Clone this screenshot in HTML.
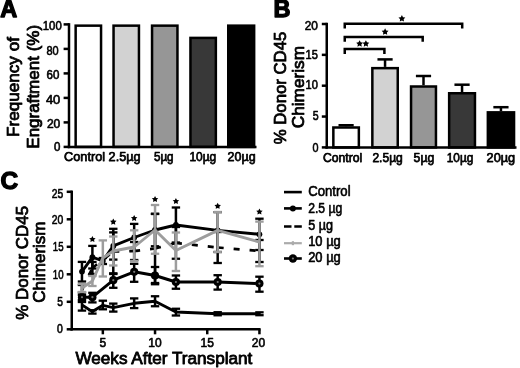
<!DOCTYPE html>
<html><head><meta charset="utf-8"><title>Figure</title>
<style>
html,body{margin:0;padding:0;background:#fff;}
body{width:520px;height:368px;overflow:hidden;font-family:"Liberation Sans",sans-serif;}
svg{display:block;filter:grayscale(1);}
svg text{font-family:"Liberation Sans",sans-serif;}
</style></head><body>
<svg width="520" height="368" viewBox="0 0 520 368">
<rect x="0" y="0" width="520" height="368" fill="#fff"/>
<text x="0.2" y="16.7" font-size="23.5" text-anchor="start" font-weight="bold" fill="#000" stroke="#000" stroke-width="1.3" stroke-linejoin="round">A</text>
<text x="273.4" y="16.6" font-size="23.5" text-anchor="start" font-weight="bold" fill="#000" stroke="#000" stroke-width="1.3" stroke-linejoin="round">B</text>
<text x="0.6" y="189.2" font-size="24.5" text-anchor="start" font-weight="bold" fill="#000" stroke="#000" stroke-width="1.3" stroke-linejoin="round">C</text>
<rect x="75.65" y="25.65" width="25.40" height="121.25" fill="#fff" stroke="#000" stroke-width="2.5"/>
<rect x="113.55" y="25.65" width="25.40" height="121.25" fill="#d2d2d2" stroke="#000" stroke-width="2.5"/>
<rect x="152.05" y="25.65" width="25.40" height="121.25" fill="#969696" stroke="#000" stroke-width="2.5"/>
<rect x="190.45" y="37.90" width="25.40" height="109.00" fill="#383838" stroke="#000" stroke-width="2.5"/>
<rect x="228.25" y="25.65" width="25.90" height="121.25" fill="#000" stroke="#000" stroke-width="2.5"/>
<line x1="69.00" y1="23.15" x2="69.00" y2="148.15" stroke="#000" stroke-width="2.5" stroke-linecap="butt"/>
<line x1="67.75" y1="146.90" x2="256.50" y2="146.90" stroke="#000" stroke-width="2.5" stroke-linecap="butt"/>
<line x1="63.60" y1="146.90" x2="69.00" y2="146.90" stroke="#000" stroke-width="2.5" stroke-linecap="butt"/>
<line x1="63.60" y1="122.40" x2="69.00" y2="122.40" stroke="#000" stroke-width="2.5" stroke-linecap="butt"/>
<line x1="63.60" y1="97.90" x2="69.00" y2="97.90" stroke="#000" stroke-width="2.5" stroke-linecap="butt"/>
<line x1="63.60" y1="73.40" x2="69.00" y2="73.40" stroke="#000" stroke-width="2.5" stroke-linecap="butt"/>
<line x1="63.60" y1="48.90" x2="69.00" y2="48.90" stroke="#000" stroke-width="2.5" stroke-linecap="butt"/>
<line x1="63.60" y1="24.40" x2="69.00" y2="24.40" stroke="#000" stroke-width="2.5" stroke-linecap="butt"/>
<text x="54.0" y="151.29999999999998" font-size="12" text-anchor="start" font-weight="normal" fill="#000" stroke="#000" stroke-width="0.6" stroke-linejoin="round" textLength="6.4" lengthAdjust="spacingAndGlyphs">0</text>
<text x="46.9" y="127.5" font-size="12" text-anchor="start" font-weight="normal" fill="#000" stroke="#000" stroke-width="0.6" stroke-linejoin="round" textLength="13.4" lengthAdjust="spacingAndGlyphs">20</text>
<text x="45.9" y="103.8" font-size="12" text-anchor="start" font-weight="normal" fill="#000" stroke="#000" stroke-width="0.6" stroke-linejoin="round" textLength="14.4" lengthAdjust="spacingAndGlyphs">40</text>
<text x="46.5" y="79.10000000000001" font-size="12" text-anchor="start" font-weight="normal" fill="#000" stroke="#000" stroke-width="0.6" stroke-linejoin="round" textLength="12.8" lengthAdjust="spacingAndGlyphs">60</text>
<text x="46.5" y="54.5" font-size="12" text-anchor="start" font-weight="normal" fill="#000" stroke="#000" stroke-width="0.6" stroke-linejoin="round" textLength="12.2" lengthAdjust="spacingAndGlyphs">80</text>
<text x="42.8" y="30.15" font-size="12" text-anchor="start" font-weight="normal" fill="#000" stroke="#000" stroke-width="0.6" stroke-linejoin="round" textLength="18.9" lengthAdjust="spacingAndGlyphs">100</text>
<text x="64.10000000000001" y="161.1" font-size="13.3" text-anchor="start" font-weight="normal" fill="#000" stroke="#000" stroke-width="0.75" stroke-linejoin="round" textLength="41.0" lengthAdjust="spacingAndGlyphs">Control</text>
<text x="108.60000000000001" y="161.1" font-size="13.3" text-anchor="start" font-weight="normal" fill="#000" stroke="#000" stroke-width="0.75" stroke-linejoin="round" textLength="32.0" lengthAdjust="spacingAndGlyphs">2.5µg</text>
<text x="153.9" y="161.1" font-size="13.3" text-anchor="start" font-weight="normal" fill="#000" stroke="#000" stroke-width="0.75" stroke-linejoin="round" textLength="19.7" lengthAdjust="spacingAndGlyphs">5µg</text>
<text x="189.4" y="161.1" font-size="13.3" text-anchor="start" font-weight="normal" fill="#000" stroke="#000" stroke-width="0.75" stroke-linejoin="round" textLength="26.8" lengthAdjust="spacingAndGlyphs">10µg</text>
<text x="227.6" y="161.1" font-size="13.3" text-anchor="start" font-weight="normal" fill="#000" stroke="#000" stroke-width="0.75" stroke-linejoin="round" textLength="28.0" lengthAdjust="spacingAndGlyphs">20µg</text>
<text x="18.9" y="137" font-size="16.5" text-anchor="start" font-weight="normal" fill="#000" stroke="#000" stroke-width="0.8" stroke-linejoin="round" transform="rotate(-90 18.9 137)" textLength="100" lengthAdjust="spacingAndGlyphs">Frequency of</text>
<text x="39.4" y="148.7" font-size="16.5" text-anchor="start" font-weight="normal" fill="#000" stroke="#000" stroke-width="0.8" stroke-linejoin="round" transform="rotate(-90 39.4 148.7)" textLength="123.8" lengthAdjust="spacingAndGlyphs">Engraftment (%)</text>
<line x1="346.10" y1="125.25" x2="346.10" y2="126.25" stroke="#000" stroke-width="2.5" stroke-linecap="butt"/>
<line x1="338.50" y1="125.25" x2="353.70" y2="125.25" stroke="#000" stroke-width="2.5" stroke-linecap="butt"/>
<rect x="333.35" y="127.50" width="25.50" height="19.90" fill="#fff" stroke="#000" stroke-width="2.5"/>
<line x1="385.05" y1="59.40" x2="385.05" y2="66.90" stroke="#000" stroke-width="2.5" stroke-linecap="butt"/>
<line x1="377.45" y1="59.40" x2="392.65" y2="59.40" stroke="#000" stroke-width="2.5" stroke-linecap="butt"/>
<rect x="372.35" y="68.15" width="25.40" height="79.25" fill="#d2d2d2" stroke="#000" stroke-width="2.5"/>
<line x1="423.50" y1="76.00" x2="423.50" y2="85.25" stroke="#000" stroke-width="2.5" stroke-linecap="butt"/>
<line x1="415.90" y1="76.00" x2="431.10" y2="76.00" stroke="#000" stroke-width="2.5" stroke-linecap="butt"/>
<rect x="411.05" y="86.50" width="24.90" height="60.90" fill="#969696" stroke="#000" stroke-width="2.5"/>
<line x1="462.05" y1="84.70" x2="462.05" y2="92.00" stroke="#000" stroke-width="2.5" stroke-linecap="butt"/>
<line x1="454.45" y1="84.70" x2="469.65" y2="84.70" stroke="#000" stroke-width="2.5" stroke-linecap="butt"/>
<rect x="449.15" y="93.25" width="25.80" height="54.15" fill="#383838" stroke="#000" stroke-width="2.5"/>
<line x1="500.95" y1="107.20" x2="500.95" y2="111.10" stroke="#000" stroke-width="2.5" stroke-linecap="butt"/>
<line x1="493.35" y1="107.20" x2="508.55" y2="107.20" stroke="#000" stroke-width="2.5" stroke-linecap="butt"/>
<rect x="487.85" y="112.35" width="26.20" height="35.05" fill="#000" stroke="#000" stroke-width="2.5"/>
<line x1="326.75" y1="22.75" x2="326.75" y2="148.65" stroke="#000" stroke-width="2.5" stroke-linecap="butt"/>
<line x1="325.50" y1="147.40" x2="516.50" y2="147.40" stroke="#000" stroke-width="2.5" stroke-linecap="butt"/>
<line x1="321.80" y1="147.40" x2="326.75" y2="147.40" stroke="#000" stroke-width="2.5" stroke-linecap="butt"/>
<line x1="321.80" y1="116.55" x2="326.75" y2="116.55" stroke="#000" stroke-width="2.5" stroke-linecap="butt"/>
<line x1="321.80" y1="85.70" x2="326.75" y2="85.70" stroke="#000" stroke-width="2.5" stroke-linecap="butt"/>
<line x1="321.80" y1="54.85" x2="326.75" y2="54.85" stroke="#000" stroke-width="2.5" stroke-linecap="butt"/>
<line x1="321.80" y1="24.00" x2="326.75" y2="24.00" stroke="#000" stroke-width="2.5" stroke-linecap="butt"/>
<text x="312.5" y="151.79999999999998" font-size="12" text-anchor="start" font-weight="normal" fill="#000" stroke="#000" stroke-width="0.6" stroke-linejoin="round" textLength="6.0" lengthAdjust="spacingAndGlyphs">0</text>
<text x="312.7" y="120.3" font-size="12" text-anchor="start" font-weight="normal" fill="#000" stroke="#000" stroke-width="0.6" stroke-linejoin="round" textLength="5.9" lengthAdjust="spacingAndGlyphs">5</text>
<text x="305.6" y="89.0" font-size="12" text-anchor="start" font-weight="normal" fill="#000" stroke="#000" stroke-width="0.6" stroke-linejoin="round" textLength="12.3" lengthAdjust="spacingAndGlyphs">10</text>
<text x="305.6" y="58.5" font-size="12" text-anchor="start" font-weight="normal" fill="#000" stroke="#000" stroke-width="0.6" stroke-linejoin="round" textLength="12.3" lengthAdjust="spacingAndGlyphs">15</text>
<text x="304.7" y="29.8" font-size="12" text-anchor="start" font-weight="normal" fill="#000" stroke="#000" stroke-width="0.6" stroke-linejoin="round" textLength="13.2" lengthAdjust="spacingAndGlyphs">20</text>
<text x="322.9" y="162.1" font-size="13.3" text-anchor="start" font-weight="normal" fill="#000" stroke="#000" stroke-width="0.75" stroke-linejoin="round" textLength="39.3" lengthAdjust="spacingAndGlyphs">Control</text>
<text x="372.4" y="162.1" font-size="13.3" text-anchor="start" font-weight="normal" fill="#000" stroke="#000" stroke-width="0.75" stroke-linejoin="round" textLength="30.4" lengthAdjust="spacingAndGlyphs">2.5µg</text>
<text x="413.59999999999997" y="162.1" font-size="13.3" text-anchor="start" font-weight="normal" fill="#000" stroke="#000" stroke-width="0.75" stroke-linejoin="round" textLength="20.6" lengthAdjust="spacingAndGlyphs">5µg</text>
<text x="446.79999999999995" y="162.1" font-size="13.3" text-anchor="start" font-weight="normal" fill="#000" stroke="#000" stroke-width="0.75" stroke-linejoin="round" textLength="26.5" lengthAdjust="spacingAndGlyphs">10µg</text>
<text x="486.59999999999997" y="162.1" font-size="13.3" text-anchor="start" font-weight="normal" fill="#000" stroke="#000" stroke-width="0.75" stroke-linejoin="round" textLength="28.6" lengthAdjust="spacingAndGlyphs">20µg</text>
<text x="285.6" y="144.3" font-size="16.8" text-anchor="start" font-weight="normal" fill="#000" stroke="#000" stroke-width="0.8" stroke-linejoin="round" transform="rotate(-90 285.6 144.3)" textLength="112.6" lengthAdjust="spacingAndGlyphs">% Donor CD45</text>
<text x="303.6" y="128.2" font-size="16.8" text-anchor="start" font-weight="normal" fill="#000" stroke="#000" stroke-width="0.8" stroke-linejoin="round" transform="rotate(-90 303.6 128.2)" textLength="82.2" lengthAdjust="spacingAndGlyphs">Chimerism</text>
<polyline points="344.75,28.5 344.75,23.7 462.2,23.7 462.2,28.5" fill="none" stroke="#000" stroke-width="2.5"/>
<polyline points="344.75,41.699999999999996 344.75,36.9 422.7,36.9 422.7,41.699999999999996" fill="none" stroke="#000" stroke-width="2.5"/>
<polyline points="344.75,53.9 344.75,49.0 384.4,49.0 384.4,53.9" fill="none" stroke="#000" stroke-width="2.5"/>
<polygon points="401.90,15.04 403.00,17.13 405.32,17.53 403.68,19.22 404.02,21.55 401.90,20.51 399.78,21.55 400.12,19.22 398.48,17.53 400.80,17.13" fill="#000"/>
<polygon points="385.10,28.34 386.20,30.43 388.52,30.83 386.88,32.52 387.22,34.85 385.10,33.81 382.98,34.85 383.32,32.52 381.68,30.83 384.00,30.43" fill="#000"/>
<polygon points="359.60,40.14 360.70,42.23 363.02,42.63 361.38,44.32 361.72,46.65 359.60,45.61 357.48,46.65 357.82,44.32 356.18,42.63 358.50,42.23" fill="#000"/>
<polygon points="365.90,40.14 367.00,42.23 369.32,42.63 367.68,44.32 368.02,46.65 365.90,45.61 363.78,46.65 364.12,44.32 362.48,42.63 364.80,42.23" fill="#000"/>
<line x1="71.75" y1="190.55" x2="71.75" y2="330.55" stroke="#000" stroke-width="2.5" stroke-linecap="butt"/>
<line x1="70.50" y1="329.30" x2="260.60" y2="329.30" stroke="#000" stroke-width="2.5" stroke-linecap="butt"/>
<line x1="66.70" y1="329.30" x2="71.75" y2="329.30" stroke="#000" stroke-width="2.5" stroke-linecap="butt"/>
<line x1="66.70" y1="301.80" x2="71.75" y2="301.80" stroke="#000" stroke-width="2.5" stroke-linecap="butt"/>
<line x1="66.70" y1="274.30" x2="71.75" y2="274.30" stroke="#000" stroke-width="2.5" stroke-linecap="butt"/>
<line x1="66.70" y1="246.80" x2="71.75" y2="246.80" stroke="#000" stroke-width="2.5" stroke-linecap="butt"/>
<line x1="66.70" y1="219.30" x2="71.75" y2="219.30" stroke="#000" stroke-width="2.5" stroke-linecap="butt"/>
<line x1="66.70" y1="191.80" x2="71.75" y2="191.80" stroke="#000" stroke-width="2.5" stroke-linecap="butt"/>
<text x="57.1" y="332.8" font-size="12" text-anchor="start" font-weight="normal" fill="#000" stroke="#000" stroke-width="0.6" stroke-linejoin="round" textLength="5.8" lengthAdjust="spacingAndGlyphs">0</text>
<text x="57.3" y="305.9" font-size="12" text-anchor="start" font-weight="normal" fill="#000" stroke="#000" stroke-width="0.6" stroke-linejoin="round" textLength="5.7" lengthAdjust="spacingAndGlyphs">5</text>
<text x="52.8" y="278.9" font-size="12" text-anchor="start" font-weight="normal" fill="#000" stroke="#000" stroke-width="0.6" stroke-linejoin="round" textLength="10.7" lengthAdjust="spacingAndGlyphs">10</text>
<text x="52.8" y="250.6" font-size="12" text-anchor="start" font-weight="normal" fill="#000" stroke="#000" stroke-width="0.6" stroke-linejoin="round" textLength="10.7" lengthAdjust="spacingAndGlyphs">15</text>
<text x="51.8" y="223.89999999999998" font-size="12" text-anchor="start" font-weight="normal" fill="#000" stroke="#000" stroke-width="0.6" stroke-linejoin="round" textLength="11.5" lengthAdjust="spacingAndGlyphs">20</text>
<text x="51.8" y="198.45" font-size="12" text-anchor="start" font-weight="normal" fill="#000" stroke="#000" stroke-width="0.6" stroke-linejoin="round" textLength="11.5" lengthAdjust="spacingAndGlyphs">25</text>
<line x1="102.84" y1="329.30" x2="102.84" y2="334.30" stroke="#000" stroke-width="2.5" stroke-linecap="butt"/>
<text x="102.84" y="346.9" font-size="12" text-anchor="middle" font-weight="normal" fill="#000" stroke="#000" stroke-width="0.6" stroke-linejoin="round">5</text>
<line x1="155.04" y1="329.30" x2="155.04" y2="334.30" stroke="#000" stroke-width="2.5" stroke-linecap="butt"/>
<text x="155.04000000000002" y="346.9" font-size="12" text-anchor="middle" font-weight="normal" fill="#000" stroke="#000" stroke-width="0.6" stroke-linejoin="round">10</text>
<line x1="207.24" y1="329.30" x2="207.24" y2="334.30" stroke="#000" stroke-width="2.5" stroke-linecap="butt"/>
<text x="207.24" y="346.9" font-size="12" text-anchor="middle" font-weight="normal" fill="#000" stroke="#000" stroke-width="0.6" stroke-linejoin="round">15</text>
<line x1="259.44" y1="329.30" x2="259.44" y2="334.30" stroke="#000" stroke-width="2.5" stroke-linecap="butt"/>
<text x="258.54" y="346.9" font-size="12" text-anchor="middle" font-weight="normal" fill="#000" stroke="#000" stroke-width="0.6" stroke-linejoin="round">20</text>
<text x="75.4" y="363.5" font-size="15.9" text-anchor="start" font-weight="normal" fill="#000" stroke="#000" stroke-width="0.8" stroke-linejoin="round" textLength="177" lengthAdjust="spacingAndGlyphs">Weeks After Transplant</text>
<text x="27.9" y="319.8" font-size="16.8" text-anchor="start" font-weight="normal" fill="#000" stroke="#000" stroke-width="0.8" stroke-linejoin="round" transform="rotate(-90 27.9 319.8)" textLength="114" lengthAdjust="spacingAndGlyphs">% Donor CD45</text>
<text x="45.0" y="302.7" font-size="16.8" text-anchor="start" font-weight="normal" fill="#000" stroke="#000" stroke-width="0.8" stroke-linejoin="round" transform="rotate(-90 45.0 302.7)" textLength="81.2" lengthAdjust="spacingAndGlyphs">Chimerism</text>
<line x1="81.96" y1="300.00" x2="81.96" y2="310.60" stroke="#000" stroke-width="2.5" stroke-linecap="butt"/>
<line x1="77.76" y1="300.00" x2="86.16" y2="300.00" stroke="#000" stroke-width="2.3" stroke-linecap="butt"/>
<line x1="77.76" y1="310.60" x2="86.16" y2="310.60" stroke="#000" stroke-width="2.3" stroke-linecap="butt"/>
<line x1="92.40" y1="310.20" x2="92.40" y2="313.60" stroke="#000" stroke-width="2.5" stroke-linecap="butt"/>
<line x1="88.20" y1="310.20" x2="96.60" y2="310.20" stroke="#000" stroke-width="2.3" stroke-linecap="butt"/>
<line x1="88.20" y1="313.60" x2="96.60" y2="313.60" stroke="#000" stroke-width="2.3" stroke-linecap="butt"/>
<line x1="102.84" y1="300.70" x2="102.84" y2="309.30" stroke="#000" stroke-width="2.5" stroke-linecap="butt"/>
<line x1="98.64" y1="300.70" x2="107.04" y2="300.70" stroke="#000" stroke-width="2.3" stroke-linecap="butt"/>
<line x1="98.64" y1="309.30" x2="107.04" y2="309.30" stroke="#000" stroke-width="2.3" stroke-linecap="butt"/>
<line x1="113.28" y1="303.60" x2="113.28" y2="311.60" stroke="#000" stroke-width="2.5" stroke-linecap="butt"/>
<line x1="109.08" y1="303.60" x2="117.48" y2="303.60" stroke="#000" stroke-width="2.3" stroke-linecap="butt"/>
<line x1="109.08" y1="311.60" x2="117.48" y2="311.60" stroke="#000" stroke-width="2.3" stroke-linecap="butt"/>
<line x1="134.16" y1="298.40" x2="134.16" y2="308.10" stroke="#000" stroke-width="2.5" stroke-linecap="butt"/>
<line x1="129.96" y1="298.40" x2="138.36" y2="298.40" stroke="#000" stroke-width="2.3" stroke-linecap="butt"/>
<line x1="129.96" y1="308.10" x2="138.36" y2="308.10" stroke="#000" stroke-width="2.3" stroke-linecap="butt"/>
<line x1="155.04" y1="296.25" x2="155.04" y2="306.25" stroke="#000" stroke-width="2.5" stroke-linecap="butt"/>
<line x1="150.84" y1="296.25" x2="159.24" y2="296.25" stroke="#000" stroke-width="2.3" stroke-linecap="butt"/>
<line x1="150.84" y1="306.25" x2="159.24" y2="306.25" stroke="#000" stroke-width="2.3" stroke-linecap="butt"/>
<line x1="175.92" y1="308.75" x2="175.92" y2="315.50" stroke="#000" stroke-width="2.5" stroke-linecap="butt"/>
<line x1="171.72" y1="308.75" x2="180.12" y2="308.75" stroke="#000" stroke-width="2.3" stroke-linecap="butt"/>
<line x1="171.72" y1="315.50" x2="180.12" y2="315.50" stroke="#000" stroke-width="2.3" stroke-linecap="butt"/>
<line x1="217.68" y1="312.20" x2="217.68" y2="315.30" stroke="#000" stroke-width="2.5" stroke-linecap="butt"/>
<line x1="213.48" y1="312.20" x2="221.88" y2="312.20" stroke="#000" stroke-width="2.3" stroke-linecap="butt"/>
<line x1="213.48" y1="315.30" x2="221.88" y2="315.30" stroke="#000" stroke-width="2.3" stroke-linecap="butt"/>
<line x1="259.44" y1="312.30" x2="259.44" y2="315.20" stroke="#000" stroke-width="2.5" stroke-linecap="butt"/>
<line x1="255.24" y1="312.30" x2="263.64" y2="312.30" stroke="#000" stroke-width="2.3" stroke-linecap="butt"/>
<line x1="255.24" y1="315.20" x2="263.64" y2="315.20" stroke="#000" stroke-width="2.3" stroke-linecap="butt"/>
<polyline points="82.0,305.0 92.4,311.6 102.8,305.3 113.3,307.6 134.2,303.3 155.0,301.2 175.9,312.0 217.7,313.8 259.4,313.8" fill="none" stroke="#000" stroke-width="2.9" stroke-linejoin="round"/>
<line x1="81.96" y1="292.50" x2="81.96" y2="302.00" stroke="#000" stroke-width="2.5" stroke-linecap="butt"/>
<line x1="77.76" y1="292.50" x2="86.16" y2="292.50" stroke="#000" stroke-width="2.3" stroke-linecap="butt"/>
<line x1="77.76" y1="302.00" x2="86.16" y2="302.00" stroke="#000" stroke-width="2.3" stroke-linecap="butt"/>
<line x1="92.40" y1="292.80" x2="92.40" y2="302.40" stroke="#000" stroke-width="2.5" stroke-linecap="butt"/>
<line x1="88.20" y1="292.80" x2="96.60" y2="292.80" stroke="#000" stroke-width="2.3" stroke-linecap="butt"/>
<line x1="88.20" y1="302.40" x2="96.60" y2="302.40" stroke="#000" stroke-width="2.3" stroke-linecap="butt"/>
<line x1="113.28" y1="273.30" x2="113.28" y2="287.80" stroke="#000" stroke-width="2.5" stroke-linecap="butt"/>
<line x1="109.08" y1="273.30" x2="117.48" y2="273.30" stroke="#000" stroke-width="2.3" stroke-linecap="butt"/>
<line x1="109.08" y1="287.80" x2="117.48" y2="287.80" stroke="#000" stroke-width="2.3" stroke-linecap="butt"/>
<line x1="134.16" y1="263.80" x2="134.16" y2="281.80" stroke="#000" stroke-width="2.5" stroke-linecap="butt"/>
<line x1="129.96" y1="263.80" x2="138.36" y2="263.80" stroke="#000" stroke-width="2.3" stroke-linecap="butt"/>
<line x1="129.96" y1="281.80" x2="138.36" y2="281.80" stroke="#000" stroke-width="2.3" stroke-linecap="butt"/>
<line x1="155.04" y1="267.00" x2="155.04" y2="284.25" stroke="#000" stroke-width="2.5" stroke-linecap="butt"/>
<line x1="150.84" y1="267.00" x2="159.24" y2="267.00" stroke="#000" stroke-width="2.3" stroke-linecap="butt"/>
<line x1="150.84" y1="284.25" x2="159.24" y2="284.25" stroke="#000" stroke-width="2.3" stroke-linecap="butt"/>
<line x1="175.92" y1="275.50" x2="175.92" y2="288.75" stroke="#000" stroke-width="2.5" stroke-linecap="butt"/>
<line x1="171.72" y1="275.50" x2="180.12" y2="275.50" stroke="#000" stroke-width="2.3" stroke-linecap="butt"/>
<line x1="171.72" y1="288.75" x2="180.12" y2="288.75" stroke="#000" stroke-width="2.3" stroke-linecap="butt"/>
<line x1="217.68" y1="275.20" x2="217.68" y2="289.60" stroke="#000" stroke-width="2.5" stroke-linecap="butt"/>
<line x1="213.48" y1="275.20" x2="221.88" y2="275.20" stroke="#000" stroke-width="2.3" stroke-linecap="butt"/>
<line x1="213.48" y1="289.60" x2="221.88" y2="289.60" stroke="#000" stroke-width="2.3" stroke-linecap="butt"/>
<line x1="259.44" y1="276.70" x2="259.44" y2="291.70" stroke="#000" stroke-width="2.5" stroke-linecap="butt"/>
<line x1="255.24" y1="276.70" x2="263.64" y2="276.70" stroke="#000" stroke-width="2.3" stroke-linecap="butt"/>
<line x1="255.24" y1="291.70" x2="263.64" y2="291.70" stroke="#000" stroke-width="2.3" stroke-linecap="butt"/>
<polyline points="82.0,297.2 92.4,297.2 113.3,280.2 134.2,271.8 155.0,275.5 175.9,282.0 217.7,282.0 259.4,283.6" fill="none" stroke="#000" stroke-width="2.9" stroke-linejoin="round"/>
<circle cx="82.0" cy="297.2" r="4.1" fill="#000"/>
<circle cx="82.0" cy="297.2" r="1.1" fill="#777"/>
<circle cx="92.4" cy="297.2" r="4.1" fill="#000"/>
<circle cx="92.4" cy="297.2" r="1.1" fill="#777"/>
<circle cx="113.3" cy="280.2" r="4.1" fill="#000"/>
<circle cx="113.3" cy="280.2" r="1.1" fill="#777"/>
<circle cx="134.2" cy="271.8" r="4.1" fill="#000"/>
<circle cx="134.2" cy="271.8" r="1.1" fill="#777"/>
<circle cx="155.0" cy="275.5" r="4.1" fill="#000"/>
<circle cx="155.0" cy="275.5" r="1.1" fill="#777"/>
<circle cx="175.9" cy="282.0" r="4.1" fill="#000"/>
<circle cx="175.9" cy="282.0" r="1.1" fill="#777"/>
<circle cx="217.7" cy="282.0" r="4.1" fill="#000"/>
<circle cx="217.7" cy="282.0" r="1.1" fill="#777"/>
<circle cx="259.4" cy="283.6" r="4.1" fill="#000"/>
<circle cx="259.4" cy="283.6" r="1.1" fill="#777"/>
<line x1="81.96" y1="285.00" x2="81.96" y2="295.00" stroke="#000" stroke-width="2.5" stroke-linecap="butt"/>
<line x1="77.76" y1="285.00" x2="86.16" y2="285.00" stroke="#000" stroke-width="2.3" stroke-linecap="butt"/>
<line x1="77.76" y1="295.00" x2="86.16" y2="295.00" stroke="#000" stroke-width="2.3" stroke-linecap="butt"/>
<line x1="92.40" y1="262.00" x2="92.40" y2="274.00" stroke="#000" stroke-width="2.5" stroke-linecap="butt"/>
<line x1="88.20" y1="262.00" x2="96.60" y2="262.00" stroke="#000" stroke-width="2.3" stroke-linecap="butt"/>
<line x1="88.20" y1="274.00" x2="96.60" y2="274.00" stroke="#000" stroke-width="2.3" stroke-linecap="butt"/>
<line x1="113.28" y1="228.80" x2="113.28" y2="274.00" stroke="#000" stroke-width="2.5" stroke-linecap="butt"/>
<line x1="109.08" y1="228.80" x2="117.48" y2="228.80" stroke="#000" stroke-width="2.3" stroke-linecap="butt"/>
<line x1="109.08" y1="274.00" x2="117.48" y2="274.00" stroke="#000" stroke-width="2.3" stroke-linecap="butt"/>
<line x1="134.16" y1="242.00" x2="134.16" y2="260.00" stroke="#000" stroke-width="2.5" stroke-linecap="butt"/>
<line x1="129.96" y1="242.00" x2="138.36" y2="242.00" stroke="#000" stroke-width="2.3" stroke-linecap="butt"/>
<line x1="129.96" y1="260.00" x2="138.36" y2="260.00" stroke="#000" stroke-width="2.3" stroke-linecap="butt"/>
<line x1="155.04" y1="213.75" x2="155.04" y2="283.00" stroke="#000" stroke-width="2.5" stroke-linecap="butt"/>
<line x1="150.84" y1="213.75" x2="159.24" y2="213.75" stroke="#000" stroke-width="2.3" stroke-linecap="butt"/>
<line x1="150.84" y1="283.00" x2="159.24" y2="283.00" stroke="#000" stroke-width="2.3" stroke-linecap="butt"/>
<line x1="175.92" y1="227.00" x2="175.92" y2="258.75" stroke="#000" stroke-width="2.5" stroke-linecap="butt"/>
<line x1="171.72" y1="227.00" x2="180.12" y2="227.00" stroke="#000" stroke-width="2.3" stroke-linecap="butt"/>
<line x1="171.72" y1="258.75" x2="180.12" y2="258.75" stroke="#000" stroke-width="2.3" stroke-linecap="butt"/>
<line x1="217.68" y1="232.00" x2="217.68" y2="263.00" stroke="#000" stroke-width="2.5" stroke-linecap="butt"/>
<line x1="213.48" y1="232.00" x2="221.88" y2="232.00" stroke="#000" stroke-width="2.3" stroke-linecap="butt"/>
<line x1="213.48" y1="263.00" x2="221.88" y2="263.00" stroke="#000" stroke-width="2.3" stroke-linecap="butt"/>
<line x1="259.44" y1="240.00" x2="259.44" y2="262.00" stroke="#000" stroke-width="2.5" stroke-linecap="butt"/>
<line x1="255.24" y1="240.00" x2="263.64" y2="240.00" stroke="#000" stroke-width="2.3" stroke-linecap="butt"/>
<line x1="255.24" y1="262.00" x2="263.64" y2="262.00" stroke="#000" stroke-width="2.3" stroke-linecap="butt"/>
<line x1="81.96" y1="290.00" x2="92.40" y2="268.00" stroke="#000" stroke-width="2.7" stroke-linecap="butt" stroke-dasharray="6 10"/>
<line x1="92.40" y1="268.00" x2="113.28" y2="251.50" stroke="#000" stroke-width="2.7" stroke-linecap="butt" stroke-dasharray="6 10"/>
<line x1="113.28" y1="251.50" x2="134.16" y2="251.00" stroke="#000" stroke-width="2.7" stroke-linecap="butt" stroke-dasharray="6 10"/>
<line x1="134.16" y1="251.00" x2="155.04" y2="248.50" stroke="#000" stroke-width="2.7" stroke-linecap="butt" stroke-dasharray="6 10"/>
<line x1="155.04" y1="248.50" x2="175.92" y2="243.00" stroke="#000" stroke-width="2.7" stroke-linecap="butt" stroke-dasharray="6 10"/>
<line x1="175.92" y1="243.00" x2="217.68" y2="247.50" stroke="#000" stroke-width="2.7" stroke-linecap="butt" stroke-dasharray="6 10"/>
<line x1="217.68" y1="247.50" x2="259.44" y2="251.00" stroke="#000" stroke-width="2.7" stroke-linecap="butt" stroke-dasharray="6 10"/>
<line x1="81.96" y1="261.90" x2="81.96" y2="281.50" stroke="#000" stroke-width="2.5" stroke-linecap="butt"/>
<line x1="77.76" y1="261.90" x2="86.16" y2="261.90" stroke="#000" stroke-width="2.3" stroke-linecap="butt"/>
<line x1="77.76" y1="281.50" x2="86.16" y2="281.50" stroke="#000" stroke-width="2.3" stroke-linecap="butt"/>
<line x1="92.40" y1="245.90" x2="92.40" y2="268.50" stroke="#000" stroke-width="2.5" stroke-linecap="butt"/>
<line x1="88.20" y1="245.90" x2="96.60" y2="245.90" stroke="#000" stroke-width="2.3" stroke-linecap="butt"/>
<line x1="88.20" y1="268.50" x2="96.60" y2="268.50" stroke="#000" stroke-width="2.3" stroke-linecap="butt"/>
<line x1="102.84" y1="258.00" x2="102.84" y2="264.00" stroke="#000" stroke-width="2.5" stroke-linecap="butt"/>
<line x1="98.64" y1="258.00" x2="107.04" y2="258.00" stroke="#000" stroke-width="2.3" stroke-linecap="butt"/>
<line x1="98.64" y1="264.00" x2="107.04" y2="264.00" stroke="#000" stroke-width="2.3" stroke-linecap="butt"/>
<line x1="113.28" y1="232.40" x2="113.28" y2="259.60" stroke="#000" stroke-width="2.5" stroke-linecap="butt"/>
<line x1="109.08" y1="232.40" x2="117.48" y2="232.40" stroke="#000" stroke-width="2.3" stroke-linecap="butt"/>
<line x1="109.08" y1="259.60" x2="117.48" y2="259.60" stroke="#000" stroke-width="2.3" stroke-linecap="butt"/>
<line x1="134.16" y1="223.90" x2="134.16" y2="251.00" stroke="#000" stroke-width="2.5" stroke-linecap="butt"/>
<line x1="129.96" y1="223.90" x2="138.36" y2="223.90" stroke="#000" stroke-width="2.3" stroke-linecap="butt"/>
<line x1="129.96" y1="251.00" x2="138.36" y2="251.00" stroke="#000" stroke-width="2.3" stroke-linecap="butt"/>
<line x1="155.04" y1="214.00" x2="155.04" y2="246.25" stroke="#000" stroke-width="2.5" stroke-linecap="butt"/>
<line x1="150.84" y1="214.00" x2="159.24" y2="214.00" stroke="#000" stroke-width="2.3" stroke-linecap="butt"/>
<line x1="150.84" y1="246.25" x2="159.24" y2="246.25" stroke="#000" stroke-width="2.3" stroke-linecap="butt"/>
<line x1="175.92" y1="207.50" x2="175.92" y2="242.50" stroke="#000" stroke-width="2.5" stroke-linecap="butt"/>
<line x1="171.72" y1="207.50" x2="180.12" y2="207.50" stroke="#000" stroke-width="2.3" stroke-linecap="butt"/>
<line x1="171.72" y1="242.50" x2="180.12" y2="242.50" stroke="#000" stroke-width="2.3" stroke-linecap="butt"/>
<line x1="217.68" y1="212.10" x2="217.68" y2="252.00" stroke="#000" stroke-width="2.5" stroke-linecap="butt"/>
<line x1="213.48" y1="212.10" x2="221.88" y2="212.10" stroke="#000" stroke-width="2.3" stroke-linecap="butt"/>
<line x1="213.48" y1="252.00" x2="221.88" y2="252.00" stroke="#000" stroke-width="2.3" stroke-linecap="butt"/>
<line x1="259.44" y1="218.70" x2="259.44" y2="250.00" stroke="#000" stroke-width="2.5" stroke-linecap="butt"/>
<line x1="255.24" y1="218.70" x2="263.64" y2="218.70" stroke="#000" stroke-width="2.3" stroke-linecap="butt"/>
<line x1="255.24" y1="250.00" x2="263.64" y2="250.00" stroke="#000" stroke-width="2.3" stroke-linecap="butt"/>
<polyline points="82.0,271.6 92.4,257.2 102.8,261.0 113.3,245.9 134.2,237.5 155.0,230.0 175.9,225.0 217.7,230.4 259.4,234.3" fill="none" stroke="#000" stroke-width="2.9" stroke-linejoin="round"/>
<circle cx="82.0" cy="271.6" r="2.9" fill="#000"/>
<circle cx="92.4" cy="257.2" r="2.9" fill="#000"/>
<circle cx="102.8" cy="261.0" r="2.9" fill="#000"/>
<circle cx="113.3" cy="245.9" r="2.9" fill="#000"/>
<circle cx="134.2" cy="237.5" r="2.9" fill="#000"/>
<circle cx="155.0" cy="230.0" r="2.9" fill="#000"/>
<circle cx="175.9" cy="225.0" r="2.9" fill="#000"/>
<circle cx="217.7" cy="230.4" r="2.9" fill="#000"/>
<circle cx="259.4" cy="234.3" r="2.9" fill="#000"/>
<line x1="81.96" y1="284.00" x2="81.96" y2="292.00" stroke="#9d9d9d" stroke-width="2.5" stroke-linecap="butt"/>
<line x1="77.76" y1="284.00" x2="86.16" y2="284.00" stroke="#9d9d9d" stroke-width="2.3" stroke-linecap="butt"/>
<line x1="77.76" y1="292.00" x2="86.16" y2="292.00" stroke="#9d9d9d" stroke-width="2.3" stroke-linecap="butt"/>
<line x1="92.40" y1="276.00" x2="92.40" y2="286.00" stroke="#9d9d9d" stroke-width="2.5" stroke-linecap="butt"/>
<line x1="88.20" y1="276.00" x2="96.60" y2="276.00" stroke="#9d9d9d" stroke-width="2.3" stroke-linecap="butt"/>
<line x1="88.20" y1="286.00" x2="96.60" y2="286.00" stroke="#9d9d9d" stroke-width="2.3" stroke-linecap="butt"/>
<line x1="102.84" y1="240.40" x2="102.84" y2="276.50" stroke="#9d9d9d" stroke-width="2.5" stroke-linecap="butt"/>
<line x1="98.64" y1="240.40" x2="107.04" y2="240.40" stroke="#9d9d9d" stroke-width="2.3" stroke-linecap="butt"/>
<line x1="98.64" y1="276.50" x2="107.04" y2="276.50" stroke="#9d9d9d" stroke-width="2.3" stroke-linecap="butt"/>
<line x1="113.28" y1="236.50" x2="113.28" y2="265.50" stroke="#9d9d9d" stroke-width="2.5" stroke-linecap="butt"/>
<line x1="109.08" y1="236.50" x2="117.48" y2="236.50" stroke="#9d9d9d" stroke-width="2.3" stroke-linecap="butt"/>
<line x1="109.08" y1="265.50" x2="117.48" y2="265.50" stroke="#9d9d9d" stroke-width="2.3" stroke-linecap="butt"/>
<line x1="134.16" y1="230.30" x2="134.16" y2="261.00" stroke="#9d9d9d" stroke-width="2.5" stroke-linecap="butt"/>
<line x1="129.96" y1="230.30" x2="138.36" y2="230.30" stroke="#9d9d9d" stroke-width="2.3" stroke-linecap="butt"/>
<line x1="129.96" y1="261.00" x2="138.36" y2="261.00" stroke="#9d9d9d" stroke-width="2.3" stroke-linecap="butt"/>
<line x1="155.04" y1="205.00" x2="155.04" y2="253.75" stroke="#9d9d9d" stroke-width="2.5" stroke-linecap="butt"/>
<line x1="150.84" y1="205.00" x2="159.24" y2="205.00" stroke="#9d9d9d" stroke-width="2.3" stroke-linecap="butt"/>
<line x1="150.84" y1="253.75" x2="159.24" y2="253.75" stroke="#9d9d9d" stroke-width="2.3" stroke-linecap="butt"/>
<line x1="175.92" y1="232.50" x2="175.92" y2="271.00" stroke="#9d9d9d" stroke-width="2.5" stroke-linecap="butt"/>
<line x1="171.72" y1="232.50" x2="180.12" y2="232.50" stroke="#9d9d9d" stroke-width="2.3" stroke-linecap="butt"/>
<line x1="171.72" y1="271.00" x2="180.12" y2="271.00" stroke="#9d9d9d" stroke-width="2.3" stroke-linecap="butt"/>
<line x1="217.68" y1="212.10" x2="217.68" y2="252.00" stroke="#9d9d9d" stroke-width="2.5" stroke-linecap="butt"/>
<line x1="213.48" y1="212.10" x2="221.88" y2="212.10" stroke="#9d9d9d" stroke-width="2.3" stroke-linecap="butt"/>
<line x1="213.48" y1="252.00" x2="221.88" y2="252.00" stroke="#9d9d9d" stroke-width="2.3" stroke-linecap="butt"/>
<line x1="259.44" y1="221.60" x2="259.44" y2="266.20" stroke="#9d9d9d" stroke-width="2.5" stroke-linecap="butt"/>
<line x1="255.24" y1="221.60" x2="263.64" y2="221.60" stroke="#9d9d9d" stroke-width="2.3" stroke-linecap="butt"/>
<line x1="255.24" y1="266.20" x2="263.64" y2="266.20" stroke="#9d9d9d" stroke-width="2.3" stroke-linecap="butt"/>
<polyline points="82.0,288.0 92.4,281.0 102.8,258.0 113.3,251.0 134.2,247.0 155.0,230.0 175.9,250.5 217.7,230.4 259.4,242.0" fill="none" stroke="#9d9d9d" stroke-width="2.9" stroke-linejoin="round"/>
<polygon points="92.40,235.92 93.44,237.89 95.63,238.27 94.08,239.87 94.40,242.07 92.40,241.09 90.40,242.07 90.72,239.87 89.17,238.27 91.36,237.89" fill="#000"/>
<polygon points="113.28,218.52 114.32,220.49 116.51,220.87 114.96,222.47 115.28,224.67 113.28,223.69 111.28,224.67 111.60,222.47 110.05,220.87 112.24,220.49" fill="#000"/>
<polygon points="134.16,214.92 135.20,216.89 137.39,217.27 135.84,218.87 136.16,221.07 134.16,220.09 132.16,221.07 132.48,218.87 130.93,217.27 133.12,216.89" fill="#000"/>
<polygon points="155.04,195.92 156.08,197.89 158.27,198.27 156.72,199.87 157.04,202.07 155.04,201.09 153.04,202.07 153.36,199.87 151.81,198.27 154.00,197.89" fill="#000"/>
<polygon points="175.92,197.92 176.96,199.89 179.15,200.27 177.60,201.87 177.92,204.07 175.92,203.09 173.92,204.07 174.24,201.87 172.69,200.27 174.88,199.89" fill="#000"/>
<polygon points="217.68,202.72 218.72,204.69 220.91,205.07 219.36,206.67 219.68,208.87 217.68,207.89 215.68,208.87 216.00,206.67 214.45,205.07 216.64,204.69" fill="#000"/>
<polygon points="259.44,208.42 260.48,210.39 262.67,210.77 261.12,212.37 261.44,214.57 259.44,213.59 257.44,214.57 257.76,212.37 256.21,210.77 258.40,210.39" fill="#000"/>
<line x1="284.00" y1="192.10" x2="301.80" y2="192.10" stroke="#000" stroke-width="2.6" stroke-linecap="butt"/>
<text x="308.2" y="196.2" font-size="13.9" text-anchor="start" font-weight="normal" fill="#000" stroke="#000" stroke-width="0.6" stroke-linejoin="round" textLength="42.4" lengthAdjust="spacingAndGlyphs">Control</text>
<line x1="284.00" y1="208.40" x2="301.80" y2="208.40" stroke="#000" stroke-width="2.6" stroke-linecap="butt"/>
<circle cx="292.9" cy="208.4" r="3.0" fill="#000"/>
<text x="308.2" y="212.9" font-size="13.9" text-anchor="start" font-weight="normal" fill="#000" stroke="#000" stroke-width="0.6" stroke-linejoin="round" textLength="34" lengthAdjust="spacingAndGlyphs">2.5 µg</text>
<line x1="284.00" y1="226.50" x2="301.80" y2="226.50" stroke="#000" stroke-width="2.6" stroke-linecap="butt" stroke-dasharray="7.5 2.8"/>
<text x="308.2" y="229.8" font-size="13.9" text-anchor="start" font-weight="normal" fill="#000" stroke="#000" stroke-width="0.6" stroke-linejoin="round" textLength="24.8" lengthAdjust="spacingAndGlyphs">5 µg</text>
<line x1="284.00" y1="243.20" x2="301.80" y2="243.20" stroke="#ababab" stroke-width="2.2" stroke-linecap="butt"/>
<line x1="292.90" y1="241.20" x2="292.90" y2="245.20" stroke="#ababab" stroke-width="2.2" stroke-linecap="butt"/>
<text x="308.2" y="246.1" font-size="13.9" text-anchor="start" font-weight="normal" fill="#000" stroke="#000" stroke-width="0.6" stroke-linejoin="round" textLength="32.6" lengthAdjust="spacingAndGlyphs">10 µg</text>
<line x1="284.00" y1="258.50" x2="301.80" y2="258.50" stroke="#000" stroke-width="2.6" stroke-linecap="butt"/>
<circle cx="292.9" cy="258.5" r="4.2" fill="#000"/>
<circle cx="292.9" cy="258.5" r="1.1" fill="#777"/>
<text x="308.2" y="262.3" font-size="13.9" text-anchor="start" font-weight="normal" fill="#000" stroke="#000" stroke-width="0.6" stroke-linejoin="round" textLength="32.6" lengthAdjust="spacingAndGlyphs">20 µg</text>
</svg>
</body></html>
